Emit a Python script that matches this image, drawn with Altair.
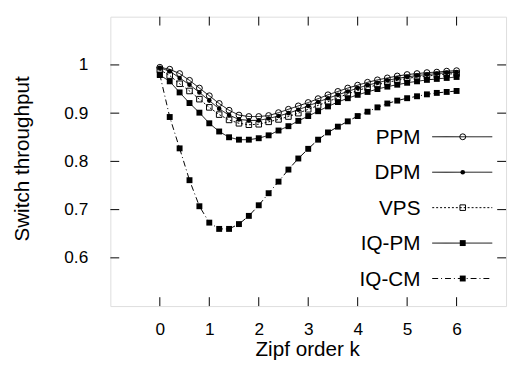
import altair as alt
import pandas as pd

k = [round(0.2 * i, 1) for i in range(31)]

ppm = [0.995, 0.991, 0.982, 0.968, 0.952, 0.936, 0.920, 0.906, 0.896, 0.893, 0.893,
       0.895, 0.901, 0.908, 0.915, 0.922, 0.930, 0.938, 0.945, 0.952, 0.958,
       0.964, 0.969, 0.973, 0.977, 0.980, 0.982, 0.984, 0.985, 0.987, 0.988]
dpm = [0.994, 0.987, 0.973, 0.959, 0.943, 0.926, 0.909, 0.896, 0.887, 0.885, 0.885,
       0.889, 0.894, 0.900, 0.907, 0.915, 0.923, 0.931, 0.938, 0.945, 0.952,
       0.958, 0.963, 0.968, 0.972, 0.975, 0.978, 0.980, 0.982, 0.984, 0.985]
vps = [0.990, 0.978, 0.961, 0.946, 0.929, 0.912, 0.897, 0.886, 0.879, 0.876, 0.877,
       0.882, 0.887, 0.893, 0.900, 0.908, 0.916, 0.924, 0.932, 0.940, 0.947,
       0.953, 0.959, 0.964, 0.968, 0.972, 0.975, 0.977, 0.979, 0.981, 0.982]
iqpm = [0.979, 0.966, 0.943, 0.921, 0.901, 0.879, 0.862, 0.850, 0.845, 0.845, 0.848,
        0.854, 0.864, 0.873, 0.884, 0.894, 0.904, 0.914, 0.923, 0.931, 0.938,
        0.944, 0.950, 0.955, 0.959, 0.963, 0.966, 0.969, 0.971, 0.973, 0.975]
iqcm = [0.980, 0.892, 0.827, 0.761, 0.707, 0.673, 0.660, 0.660, 0.670, 0.687, 0.709,
        0.734, 0.758, 0.783, 0.806, 0.826, 0.845, 0.860, 0.872, 0.883, 0.894,
        0.903, 0.912, 0.920, 0.926, 0.931, 0.935, 0.939, 0.942, 0.944, 0.946]

series_names = ["PPM", "DPM", "VPS", "IQ-PM", "IQ-CM"]
series_values = [ppm, dpm, vps, iqpm, iqcm]
x_ticks = [0, 1, 2, 3, 4, 5, 6]
y_ticks = [0.6, 0.7, 0.8, 0.9, 1.0]

W, H = 402, 294
FONT = "Liberation Sans"

styles = {
    "PPM": dict(dash=[1, 0], shape="circle", filled=False, size=36),
    "DPM": dict(dash=[1, 0], shape="circle", filled=True, size=22),
    "VPS": dict(dash=[2, 2], shape="square", filled=False, size=32),
    "IQ-PM": dict(dash=[1, 0], shape="square", filled=True, size=36),
    "IQ-CM": dict(dash=[6, 3, 1, 3], shape="square", filled=True, size=36),
}

xs = alt.Scale(domain=[-1, 7], nice=False, zero=False)
ys = alt.Scale(domain=[0.5, 1.1], nice=False, zero=False)

layers = []
first = True
for name, vals in zip(series_names, series_values):
    st = styles[name]
    df = pd.DataFrame({"k": k, "v": vals})
    if first:
        xenc = alt.X("k:Q", scale=xs, axis=alt.Axis(
            values=x_ticks, title="Zipf order k", ticks=False, tickSize=0, domain=False,
            grid=False, labelPadding=15, labelFontSize=17.5, titleFontSize=21,
            labelFont=FONT, titleFont=FONT, titleFontWeight="normal",
            titleBaseline="alphabetic", titleY=50.5, titleX=200, titleAlign="center",
            labelColor="black", titleColor="black"))
        yenc = alt.Y("v:Q", scale=ys, axis=alt.Axis(
            values=y_ticks, title="Switch throughput", ticks=False, tickSize=0, domain=False,
            grid=False, labelPadding=23, labelFontSize=17.5, titleFontSize=21, format=".1~f",
            labelFont=FONT, titleFont=FONT, titleFontWeight="normal",
            titleX=-83, titleY=144, titleAlign="center", titleBaseline="alphabetic",
            labelColor="black", titleColor="black"))
        first = False
    else:
        xenc = alt.X("k:Q", scale=xs)
        yenc = alt.Y("v:Q", scale=ys)
    base = alt.Chart(df)
    line = base.mark_line(color="black", strokeWidth=1, strokeDash=st["dash"]).encode(x=xenc, y=yenc)
    pts = base.mark_point(shape=st["shape"], filled=st["filled"], size=st["size"],
                          color="black", strokeWidth=1, opacity=1).encode(x="k:Q", y="v:Q")
    layers += [line, pts]

# inward ticks on all four sides
xt = pd.DataFrame({"t": x_ticks})
yt = pd.DataFrame({"t": y_ticks})
TL = 9
tick_layers = [
    alt.Chart(xt).mark_rule(color="black", strokeWidth=1).encode(
        x=alt.X("t:Q", scale=xs), y=alt.value(H), y2=alt.value(H - TL)),
    alt.Chart(xt).mark_rule(color="black", strokeWidth=1).encode(
        x=alt.X("t:Q", scale=xs), y=alt.value(0), y2=alt.value(TL)),
    alt.Chart(yt).mark_rule(color="black", strokeWidth=1).encode(
        y=alt.Y("t:Q", scale=ys), x=alt.value(0), x2=alt.value(TL)),
    alt.Chart(yt).mark_rule(color="black", strokeWidth=1).encode(
        y=alt.Y("t:Q", scale=ys), x=alt.value(W), x2=alt.value(W - TL)),
]

# manual legend
leg_layers = []
LX_TEXT, LX1, LX2, LXM = 315, 327, 388, 358
for i, name in enumerate(series_names):
    st = styles[name]
    yline = 122 + i * 36
    ybase = 129.5 + i * 35.9
    ld = pd.DataFrame({"label": [name]})
    leg_layers.append(alt.Chart(ld).mark_text(
        align="right", baseline="alphabetic", fontSize=21, font=FONT, color="black").encode(
        x=alt.value(LX_TEXT), y=alt.value(ybase), text="label:N"))
    leg_layers.append(alt.Chart(ld).mark_rule(
        color="black", strokeWidth=1, strokeDash=st["dash"]).encode(
        x=alt.value(LX1), x2=alt.value(LX2), y=alt.value(yline)))
    leg_layers.append(alt.Chart(ld).mark_point(
        shape=st["shape"], filled=st["filled"], size=st["size"], color="black",
        strokeWidth=1, opacity=1).encode(x=alt.value(LXM), y=alt.value(yline)))

chart = alt.layer(*layers, *tick_layers, *leg_layers).properties(
    width=W, height=H,
    autosize=alt.AutoSizeParams(type="none"),
    padding={"left": 104, "top": 6, "right": 3, "bottom": 55},
).configure_view(stroke="black", strokeWidth=1).configure(background="white")

chart.save("out.html", embed_options={"renderer": "svg", "actions": False})
